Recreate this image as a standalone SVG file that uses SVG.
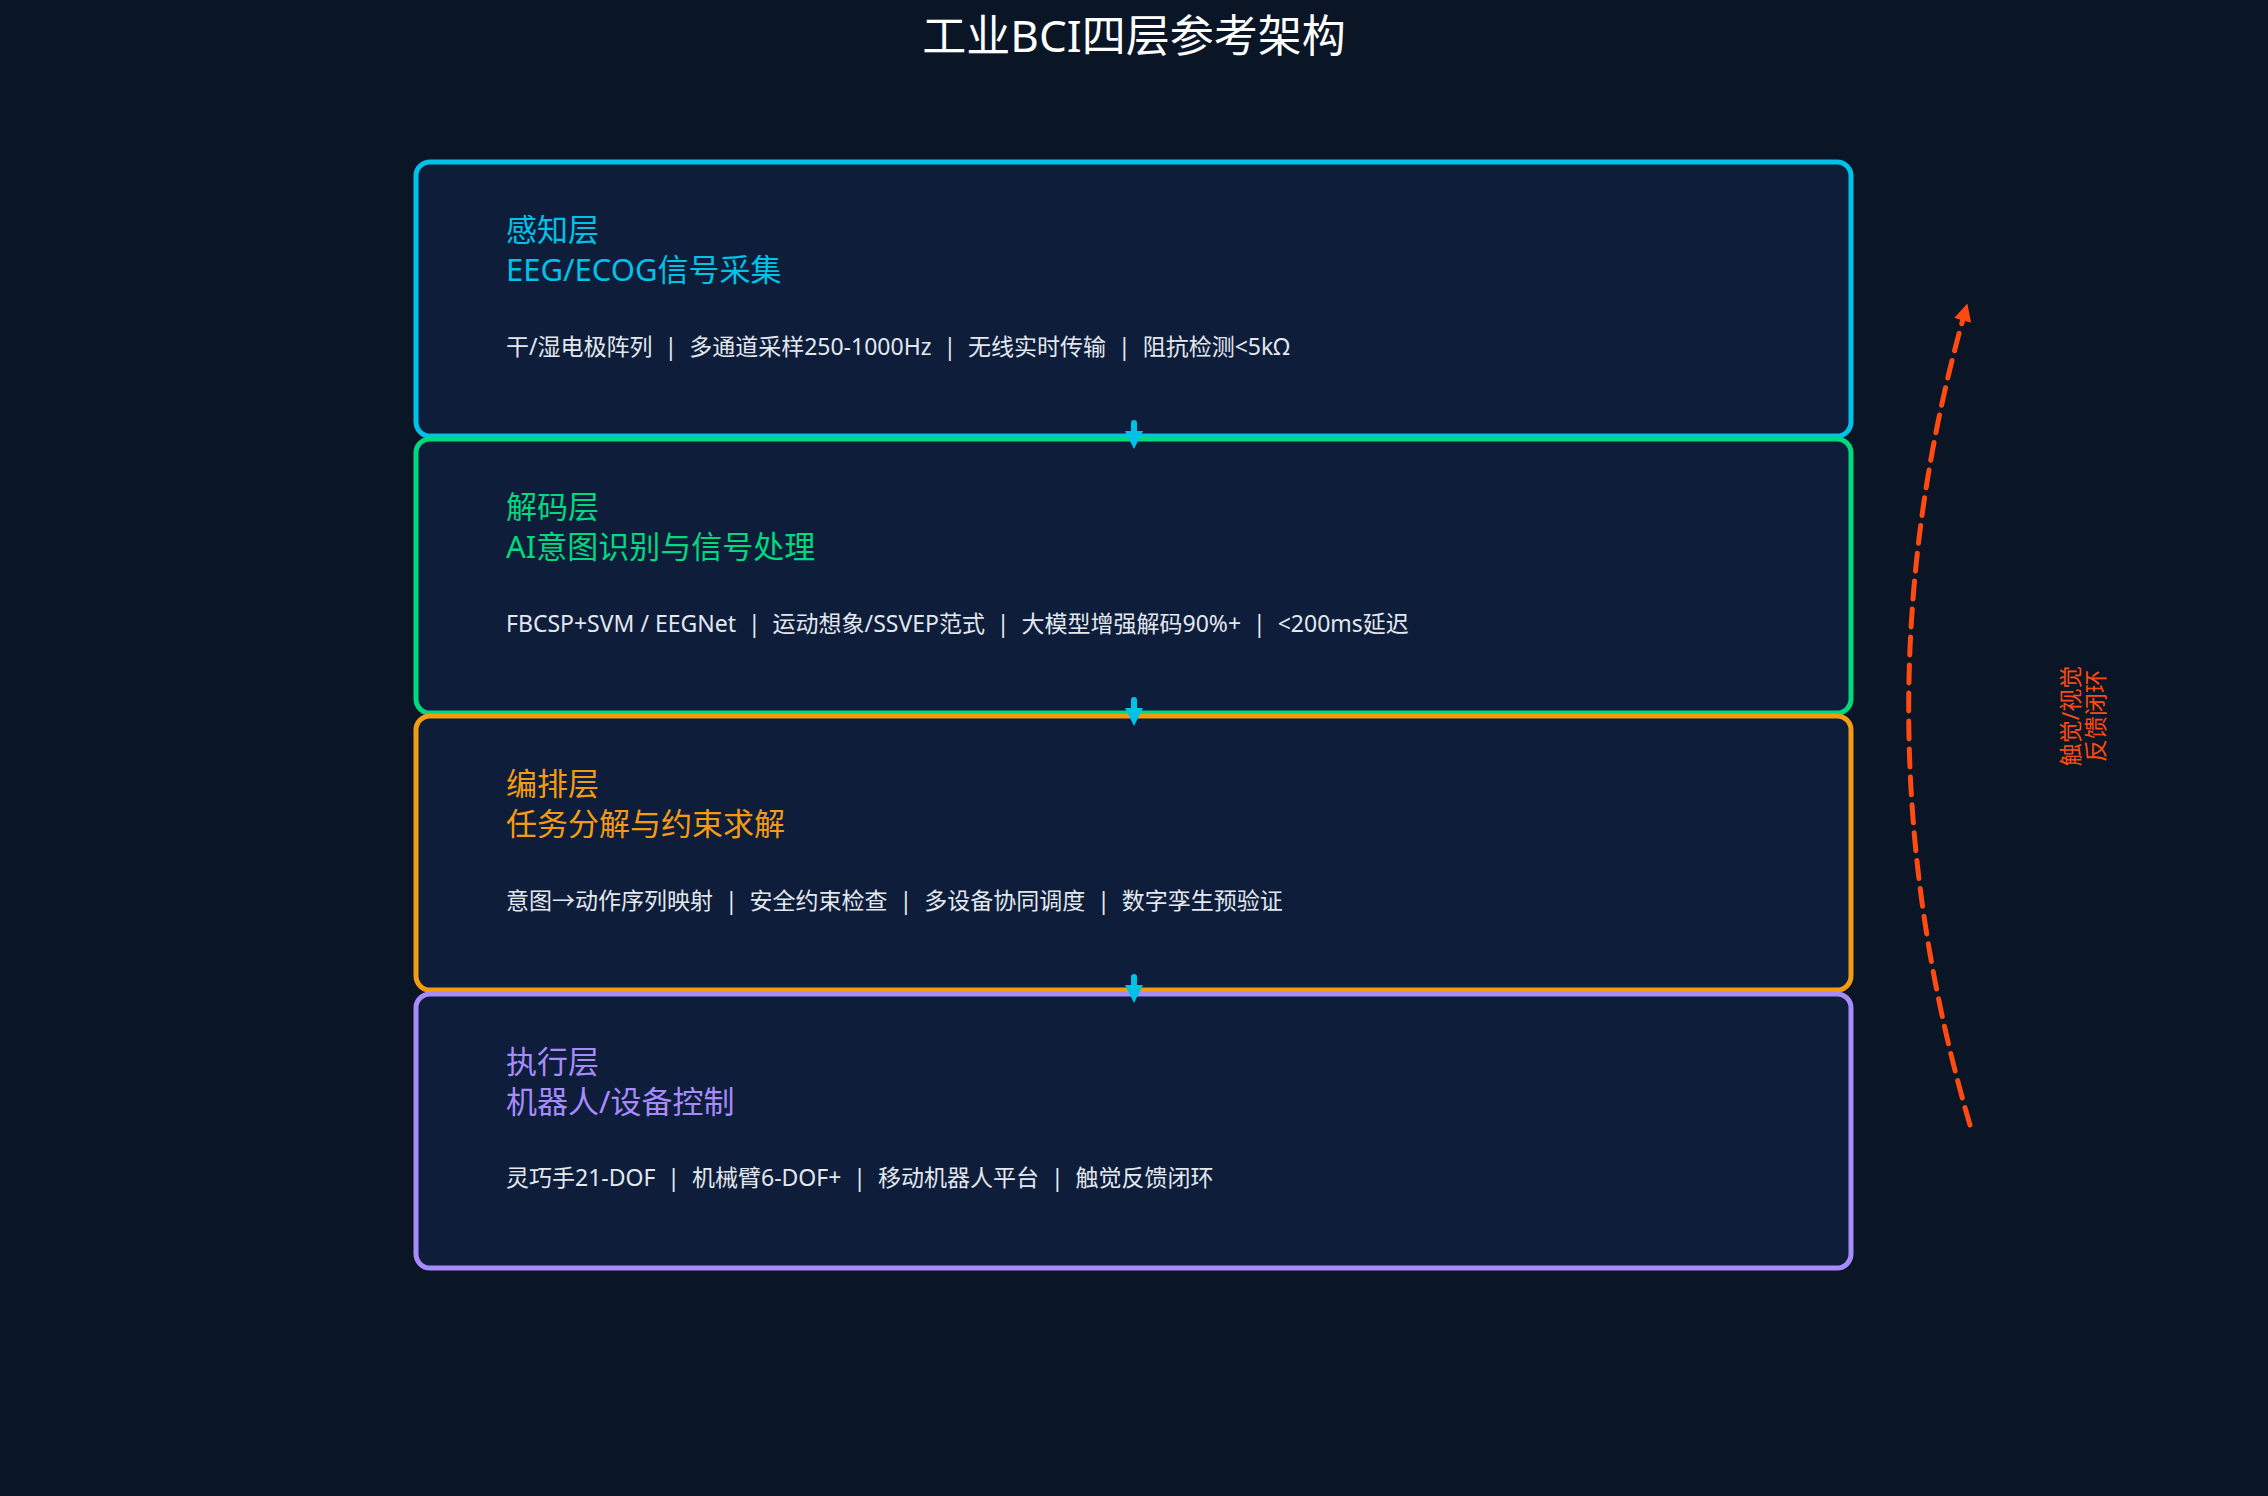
<svg xmlns="http://www.w3.org/2000/svg" width="2268" height="1496" viewBox="0 0 2268 1496">
<defs>
<style>
.box{fill:#0d1d3a;stroke-width:5}
.t{font-family:"Noto Sans","Noto Sans CJK SC",sans-serif;font-size:31px}
.b{font-family:"Noto Sans","Noto Sans CJK SC",sans-serif;font-size:23px;fill:#e3e8ef;white-space:pre}
.arr{stroke:#00c2e8;stroke-width:6;stroke-linecap:round;fill:none}
</style>
<marker id="ah" viewBox="0 0 10 10" refX="5" refY="5" markerWidth="3" markerHeight="3" orient="auto"><path d="M0,0L10,5L0,10z" fill="#00c2e8"/></marker>
<marker id="fh" viewBox="0 0 10 10" refX="5" refY="5" markerWidth="3.5" markerHeight="3.5" orient="auto"><path d="M0,0L10,5L0,10z" fill="#ff4a12"/></marker>
</defs>
<rect width="2268" height="1496" fill="#0a1526"/>
<text x="1134" y="52" text-anchor="middle" font-family="Noto Sans, Noto Sans CJK SC, sans-serif" font-size="44" fill="#ffffff">工业BCI四层参考架构</text>
<g id="layer1"><rect class="box" x="416" y="162" width="1435" height="274" rx="14" stroke="#00c2e8"/>
<text class="t" x="506" y="241" fill="#00c2e8">感知层</text><text class="t" x="506" y="281" fill="#00c2e8">EEG/ECOG信号采集</text>
<text class="b" x="506" y="355">干/湿电极阵列  |  多通道采样250-1000Hz  |  无线实时传输  |  阻抗检测&lt;5kΩ</text></g>
<g id="layer2"><rect class="box" x="416" y="439" width="1435" height="274" rx="14" stroke="#00d97e"/>
<text class="t" x="506" y="518" fill="#00d97e">解码层</text><text class="t" x="506" y="558" fill="#00d97e">AI意图识别与信号处理</text>
<text class="b" x="506" y="632">FBCSP+SVM / EEGNet  |  运动想象/SSVEP范式  |  大模型增强解码90%+  |  &lt;200ms延迟</text></g>
<g id="layer3"><rect class="box" x="416" y="716" width="1435" height="274" rx="14" stroke="#f39c12"/>
<text class="t" x="506" y="795" fill="#f39c12">编排层</text><text class="t" x="506" y="835" fill="#f39c12">任务分解与约束求解</text>
<text class="b" x="506" y="909">意图→动作序列映射  |  安全约束检查  |  多设备协同调度  |  数字孪生预验证</text></g>
<g id="layer4"><rect class="box" x="416" y="994" width="1435" height="274" rx="14" stroke="#a78bfa"/>
<text class="t" x="506" y="1073" fill="#a78bfa">执行层</text><text class="t" x="506" y="1113" fill="#a78bfa">机器人/设备控制</text>
<text class="b" x="506" y="1186">灵巧手21-DOF  |  机械臂6-DOF+  |  移动机器人平台  |  触觉反馈闭环</text></g>
<g id="connectors">
<line class="arr" x1="1134" y1="423" x2="1134" y2="440" marker-end="url(#ah)"/>
<line class="arr" x1="1134" y1="700" x2="1134" y2="717" marker-end="url(#ah)"/>
<line class="arr" x1="1134" y1="977" x2="1134" y2="994" marker-end="url(#ah)"/>
<path d="M1970,1125 Q1850,716 1965,312" fill="none" stroke="#ff4a12" stroke-width="5" stroke-dasharray="18,10" stroke-linecap="round" marker-end="url(#fh)"/>
<g transform="translate(2083,716) rotate(-90)" font-family="Noto Sans, Noto Sans CJK SC, sans-serif" font-size="23" fill="#ff4a12" text-anchor="middle">
<text x="0" y="-4">触觉/视觉</text><text x="0" y="21">反馈闭环</text></g>
</g>
</svg>
